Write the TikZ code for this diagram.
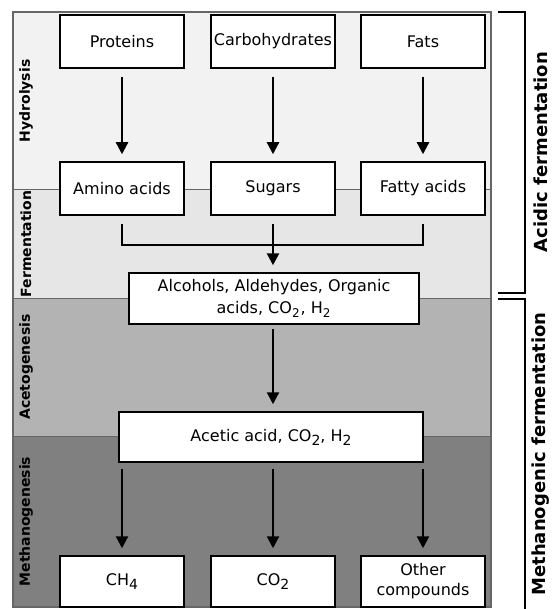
\documentclass[tikz,border=0pt]{standalone}
\usepackage{fontspec}
\setmainfont{DejaVu Sans}
\usetikzlibrary{arrows.meta}

\newcommand{\lowsub}[1]{\raisebox{-0.45ex}{\fontsize{7}{7}\selectfont #1}}

\begin{document}
\begin{tikzpicture}[
    x=0.5pt, y=-0.5pt,
    font=\fontsize{8}{9.6}\selectfont,
    >={Triangle[length=6pt,width=6pt]},
    box/.style={draw, fill=white, line width=0.75pt, minimum width=62pt,
        minimum height=26.5pt, inner sep=1pt, align=center},
    flow/.style={->, line width=1.15pt, shorten <=4pt, shorten >=3.5pt},
    joinline/.style={line width=1.3pt, shorten <=4pt, shorten >=4pt},
    stage/.style={rotate=90, font=\fontsize{7}{8}\selectfont\bfseries},
    phase/.style={rotate=90, font=\fontsize{9}{10}\selectfont\bfseries},
    bracket/.style={line width=1.4pt}
]

\definecolor{hydro}{HTML}{F2F2F2}
\definecolor{ferment}{HTML}{E6E6E6}
\definecolor{aceto}{HTML}{B3B3B3}
\definecolor{methano}{HTML}{808080}

\useasboundingbox (0,0) rectangle (551,609);

% ==========================================
% 1. STAGE BANDS
% ==========================================

\fill[hydro]   (13, 12)  rectangle (491, 190);
\fill[ferment] (13, 190) rectangle (491, 298);
\fill[aceto]   (13, 298) rectangle (491, 436);
\fill[methano] (13, 436) rectangle (491, 607);

\draw[black!60, line width=0.5pt] (13, 190) -- (491, 190);
\draw[black!60, line width=0.5pt] (13, 298) -- (491, 298);
\draw[black!60, line width=0.5pt] (13, 436) -- (491, 436);
\draw[black!60, line width=0.7pt] (13, 12) rectangle (491, 607);

\node[stage] (hydrolysis)   at (26, 101)   {Hydrolysis};
\node[stage] (fermentation) at (26, 244)   {Fermentation};
\node[stage] (acetogenesis) at (26, 367)   {Acetogenesis};
\node[stage] (methanogen)   at (26, 521.5) {Methanogenesis};

% ==========================================
% 2. BOXES
% ==========================================

\node[box] (prot) at (122, 41.5) {Proteins};
\node[box] (carb) at (273, 41.5) {Carbohydrates};
\node[box] (fats) at (423, 41.5) {Fats};

\node[box] (amino)  at (122, 188.5) {Amino acids};
\node[box] (sugars) at (273, 188.5) {Sugars};
\node[box] (fatty)  at (423, 188.5) {Fatty acids};

\node[box, minimum width=145pt, minimum height=25.5pt,
    font=\fontsize{8}{11}\selectfont] (alc) at (274, 298.5)
    {Alcohols, Aldehydes, Organic\\acids, CO\textsubscript{2}, H\textsubscript{2}};

\node[box, minimum width=152pt, minimum height=25pt] (acetic) at (271, 437)
    {Acetic acid, CO\lowsub{2}, H\lowsub{2}};

\node[box, minimum height=25.5pt] (ch4)   at (122, 581.5) {CH\lowsub{4}};
\node[box, minimum height=25.5pt] (co2)   at (273, 581.5) {CO\lowsub{2}};
\node[box, minimum height=25.5pt, font=\fontsize{8}{10}\selectfont] (other) at (423, 581.5)
    {Other\\compounds};

% ==========================================
% 3. ARROWS
% ==========================================

\draw[flow] (prot) -- (amino);
\draw[flow] (carb) -- (sugars);
\draw[flow] (fats) -- (fatty);

\coordinate (merge) at (273, 245);
\draw[joinline] (amino.south) |- (merge) -| (fatty.south);
\draw[flow, line width=1.3pt] (sugars.south) -- (alc.north -| sugars);

\draw[flow, shorten <=2pt] (alc.south -| sugars) -- (acetic.north -| sugars);

\draw[flow, shorten <=3pt] (acetic.south -| ch4) -- (ch4.north);
\draw[flow, shorten <=3pt] (acetic.south -| co2) -- (co2.north);
\draw[flow, shorten <=3pt] (acetic.south -| other) -- (other.north);

% ==========================================
% 4. PHASE BRACKETS
% ==========================================

\draw[bracket] (498, 12) -- (525, 12) -- (525, 293) -- (498, 293);
\draw[bracket] (498, 299) -- (525, 299) -- (525, 609);

\node[phase] (acidic) at (541, 152) {Acidic fermentation};
\node[phase] (methanogenic) at (541, 454) {Methanogenic fermentation};

\end{tikzpicture}
\end{document}
